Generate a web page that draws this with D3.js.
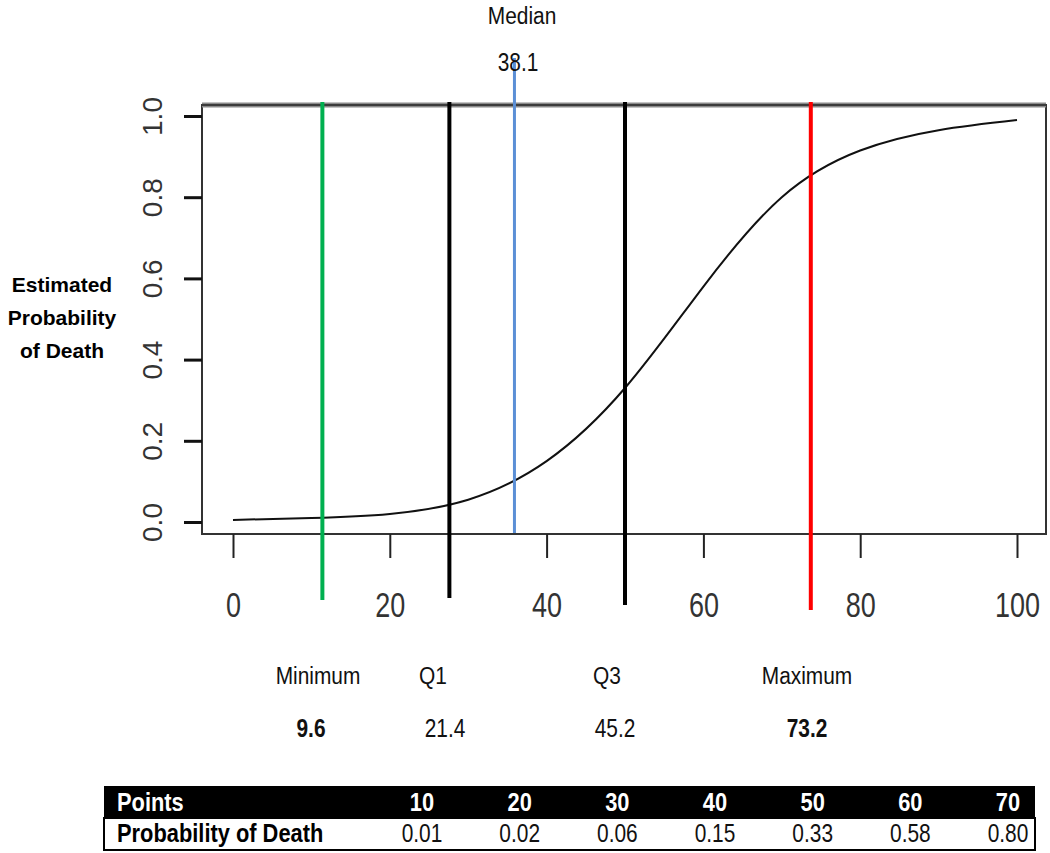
<!DOCTYPE html>
<html>
<head>
<meta charset="utf-8">
<script src="https://cdn.jsdelivr.net/npm/d3@7.9.0/dist/d3.min.js"></script>
<style>
  body { margin: 0; background: #fff; }
  svg text { font-family: "Liberation Sans", Arial, sans-serif; }
</style>
</head>
<body>
<svg id="chart" width="1050" height="853"></svg>
<script>
// curve
const points = [0, 10, 20, 30, 40, 50, 60, 70, 80, 90, 100];
const probs = [0.005, 0.01, 0.02, 0.055, 0.15, 0.33, 0.58, 0.80, 0.915, 0.965, 0.99];

const xTicks = [0, 20, 40, 60, 80, 100];
const yTicks = [0, 0.2, 0.4, 0.6, 0.8, 1.0];

// summary lines (where they are drawn) and their labels
const statNames = ['Minimum', 'Q1', 'Median', 'Q3', 'Maximum'];
const statLabels = ['9.6', '21.4', '38.1', '45.2', '73.2'];
const statLinePos = [11.4, 27.6, 35.9, 50.0, 73.7];

// table
const tablePoints = [10, 20, 30, 40, 50, 60, 70];
const tableProbs = ['0.01', '0.02', '0.06', '0.15', '0.33', '0.58', '0.80'];

const svg = d3.select('#chart');

const x = d3.scaleLinear().domain([0, 100]).range([233, 1017]);
const y = d3.scaleLinear().domain([0, 1]).range([522, 116]);

const box = { left: 202, right: 1046, top: 105, bottom: 534 };

// plot frame
svg.append('rect')
  .attr('x', box.left).attr('y', box.top)
  .attr('width', box.right - box.left).attr('height', box.bottom - box.top)
  .attr('fill', 'none').attr('stroke', '#333').attr('stroke-width', 2);
svg.append('line')
  .attr('x1', box.left).attr('x2', box.right)
  .attr('y1', box.top).attr('y2', box.top)
  .attr('stroke', '#8a8a8a').attr('stroke-width', 5);
svg.append('line')
  .attr('x1', box.left).attr('x2', box.right)
  .attr('y1', box.top).attr('y2', box.top)
  .attr('stroke', '#222').attr('stroke-width', 1.5);

// y axis
const yAxis = svg.append('g')
  .attr('transform', `translate(${box.left},0)`)
  .call(d3.axisLeft(y).tickValues(yTicks).tickSize(18).tickFormat(d3.format('.1f')));
yAxis.select('.domain').remove();
yAxis.selectAll('.tick line').attr('stroke', '#111').attr('stroke-width', 3);
yAxis.selectAll('.tick text')
  .attr('x', null).attr('dy', null)
  .attr('text-anchor', 'middle')
  .attr('transform', 'translate(-40,0) rotate(-90)')
  .attr('font-size', 28)
  .attr('fill', '#333');

// x axis
const xAxis = svg.append('g')
  .attr('transform', `translate(0,${box.bottom})`)
  .call(d3.axisBottom(x).tickValues(xTicks).tickSize(24));
xAxis.select('.domain').remove();
xAxis.selectAll('.tick line').attr('stroke', '#222').attr('stroke-width', 2);
xAxis.selectAll('.tick text')
  .attr('y', null).attr('dy', null)
  .attr('transform', 'translate(0,83) scale(1,1.3)')
  .attr('font-size', 27)
  .attr('fill', '#333');

// curve
const line = d3.line()
  .x((d, i) => x(points[i]))
  .y(d => y(d))
  .curve(d3.curveNatural);
svg.append('path')
  .attr('d', line(probs))
  .attr('fill', 'none')
  .attr('stroke', '#111')
  .attr('stroke-width', 2);

// summary lines
const lineColors = ['#00b050', '#000', '#5b8fd6', '#000', '#ff0000'];
const lineWidths = [4, 4, 3, 4, 4];
const lineTops = [102, 102, 58, 102, 102];
const lineBottoms = [600, 598, 533, 605, 610];
statLinePos.forEach((v, i) => {
  svg.append('line')
    .attr('x1', x(v)).attr('x2', x(v))
    .attr('y1', lineTops[i]).attr('y2', lineBottoms[i])
    .attr('stroke', lineColors[i])
    .attr('stroke-width', lineWidths[i]);
});

// stat labels
const nameX = [318, 433, 522, 607, 807];
const nameY = [684, 684, 24, 684, 684];
const valX = [311, 445, 518, 615, 807];
const valY = [737, 737, 71, 737, 737];
statNames.forEach((n, i) => {
  svg.append('text')
    .attr('transform', `translate(${nameX[i]},${nameY[i]}) scale(0.95,1.12)`)
    .attr('text-anchor', 'middle')
    .attr('font-size', 22)
    .attr('fill', '#111')
    .text(n);
  svg.append('text')
    .attr('transform', `translate(${valX[i]},${valY[i]}) scale(0.95,1.15)`)
    .attr('text-anchor', 'middle')
    .attr('font-size', 22)
    .attr('font-weight', i === 0 || i === 4 ? 'bold' : 'normal')
    .attr('fill', '#111')
    .text(statLabels[i]);
});

// y title
['Estimated', 'Probability', 'of Death'].forEach((t, i) => {
  svg.append('text')
    .attr('x', 62).attr('y', 292 + i * 33)
    .attr('text-anchor', 'middle')
    .attr('font-size', 21)
    .attr('font-weight', 'bold')
    .attr('fill', '#000')
    .text(t);
});

// table
const tb = { left: 104, right: 1035, top: 786, mid: 818, bottom: 850 };
const colX = d3.scalePoint().domain(tablePoints).range([422, 1008]);
svg.append('rect')
  .attr('x', tb.left).attr('y', tb.top)
  .attr('width', tb.right - tb.left).attr('height', tb.mid - tb.top)
  .attr('fill', '#000');
svg.append('rect')
  .attr('x', tb.left).attr('y', tb.mid)
  .attr('width', tb.right - tb.left).attr('height', tb.bottom - tb.mid)
  .attr('fill', '#fff').attr('stroke', '#000').attr('stroke-width', 2);

function cell(tx, ty, txt, opts) {
  svg.append('text')
    .attr('transform', `translate(${tx},${ty}) scale(0.95,1.15)`)
    .attr('text-anchor', opts.anchor || 'start')
    .attr('font-size', opts.size)
    .attr('font-weight', opts.weight || 'normal')
    .attr('fill', opts.fill)
    .text(txt);
}
cell(117, tb.mid - 7, 'Points', { size: 23, weight: 'bold', fill: '#fff' });
cell(117, tb.bottom - 8, 'Probability of Death', { size: 23, weight: 'bold', fill: '#000' });

tablePoints.forEach((p, i) => {
  cell(colX(p), tb.mid - 7, p, { size: 23, weight: 'bold', fill: '#fff', anchor: 'middle' });
  cell(colX(p), tb.bottom - 8, tableProbs[i], { size: 22, fill: '#111', anchor: 'middle' });
});
</script>
</body>
</html>
